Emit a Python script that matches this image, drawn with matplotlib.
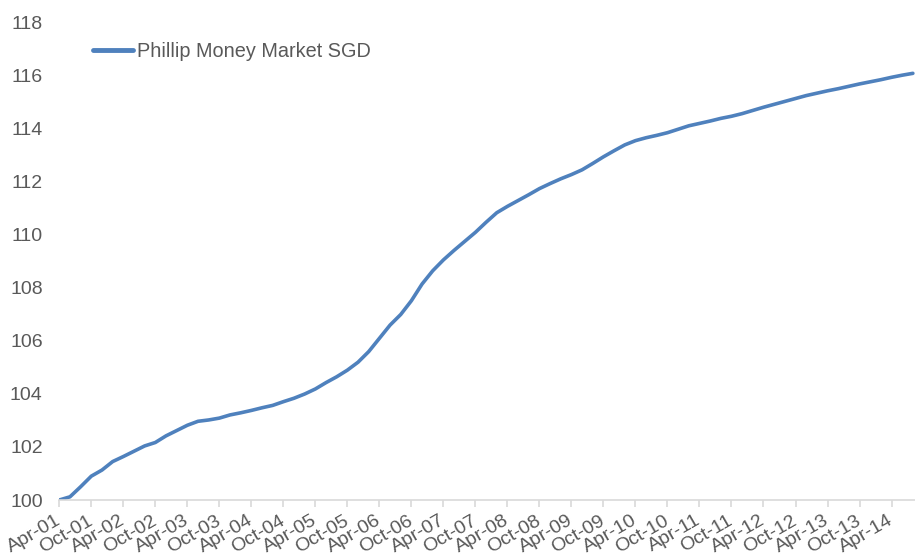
import numpy as np
import matplotlib.pyplot as plt
import matplotlib.transforms as mtransforms

# Bi-monthly readings starting Apr-01 (month offset from Apr-01)
months = list(range(0, 161, 2))
nav = [100.00, 100.12, 100.50, 100.90, 101.13, 101.45, 101.64, 101.84, 102.04, 102.17,
       102.42, 102.62, 102.82, 102.97, 103.02, 103.09, 103.21, 103.29, 103.38, 103.48,
       103.57, 103.71, 103.84, 104.00, 104.19, 104.43, 104.65, 104.90, 105.20, 105.60,
       106.10, 106.60, 107.00, 107.52, 108.15, 108.65, 109.06, 109.42, 109.76, 110.10,
       110.48, 110.84, 111.08, 111.30, 111.52, 111.75, 111.94, 112.12, 112.28, 112.46,
       112.70, 112.95, 113.18, 113.40, 113.56, 113.67, 113.76, 113.86, 113.99, 114.12,
       114.21, 114.30, 114.40, 114.48, 114.58, 114.70, 114.82, 114.93, 115.04, 115.15,
       115.26, 115.35, 115.44, 115.52, 115.61, 115.70, 115.78, 115.86, 115.95, 116.03,
       116.10]

tick_labels = []
for yr in range(1, 15):
    tick_labels.append(f"Apr-{yr:02d}")
    if yr < 14:
        tick_labels.append(f"Oct-{yr:02d}")
tick_pos = [6 * i for i in range(len(tick_labels))]

plt.rcParams['font.family'] = ['Liberation Sans', 'DejaVu Sans']

fig = plt.figure(figsize=(9.15, 5.54), dpi=100)
ax = fig.add_axes([59.3 / 915, 54 / 554, (915 - 59.3) / 915, 490 / 554])

ax.plot(months, nav, color='#4F81BD', lw=2.6, label='Phillip Money Market SGD',
        solid_capstyle='round')

ax.set_xlim(0, 160.4)
ax.set_ylim(100, 118.49)
ax.set_yticks(np.arange(100, 119, 2))
ax.set_xticks(tick_pos)
ax.set_xticklabels(tick_labels, rotation=30, ha='right', va='center',
                   rotation_mode='anchor')

# nudge the rotated labels a little to the right
shift = mtransforms.ScaledTranslation(4 / 100, 0, fig.dpi_scale_trans)
for lbl in ax.get_xticklabels():
    lbl.set_transform(lbl.get_transform() + shift)

for s in ['top', 'right', 'left']:
    ax.spines[s].set_visible(False)
ax.spines['bottom'].set_color('#D9D9D9')
ax.spines['bottom'].set_linewidth(1.2)
ax.tick_params(axis='x', colors='#D9D9D9', length=5, width=1.2, labelcolor='#595959',
               labelsize=14, pad=9)
ax.tick_params(axis='y', length=0, labelcolor='#595959', labelsize=14, pad=12)

leg = ax.legend(loc='center left', bbox_to_anchor=((93 - 59.3) / 855.7, 0.916),
                frameon=False, fontsize=14.3, handlelength=2.0, handletextpad=0.2,
                borderpad=0, borderaxespad=0, labelcolor='#595959')
for h in leg.get_lines():
    h.set_linewidth(3.5)

fig.savefig('out.png', dpi=100)
